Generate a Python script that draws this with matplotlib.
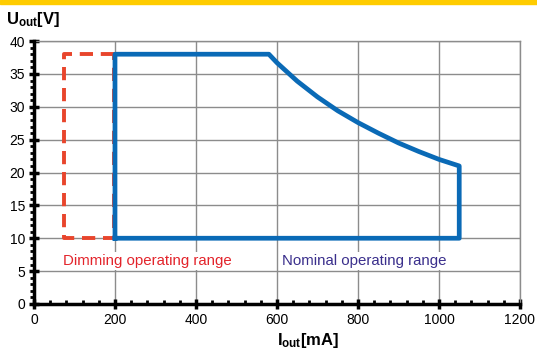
import matplotlib.pyplot as plt
from matplotlib.patches import Rectangle
from matplotlib.ticker import MultipleLocator

plt.rcParams['font.family'] = ['Liberation Sans', 'DejaVu Sans']
plt.rcParams['mathtext.fontset'] = 'custom'
plt.rcParams['mathtext.rm'] = 'Liberation Sans'
plt.rcParams['mathtext.bf'] = 'Liberation Sans:bold'

# nominal operating window (constant power section on the right)
nom_i = [200, 200, 580, 600, 650, 700, 750, 800, 850, 900, 950, 1000, 1050, 1050, 200]
nom_u = [10, 38, 38, 36.7, 33.9, 31.5, 29.4, 27.6, 26.0, 24.5, 23.2, 22.0, 21.0, 10, 10]

# dimming operating window
dim_i = [197, 75, 75, 197, 197]
dim_u = [38, 38, 10, 10, 38]

x_ticks = [0, 200, 400, 600, 800, 1000, 1200]
y_ticks = [0, 5, 10, 15, 20, 25, 30, 35, 40]

blue = '#0a6ab6'
red = '#e8452c'

fig = plt.figure(figsize=(5.37, 3.51), dpi=100)
fig.patches.append(Rectangle((0, 0.988), 1, 0.012, transform=fig.transFigure,
                             color='#ffcc00', zorder=0))

ax = fig.add_axes([0.0633, 0.134, 0.905, 0.749])
ax.set_xlim(0, 1200)
ax.set_ylim(0, 40)
ax.set_xticks(x_ticks)
ax.set_yticks(y_ticks)
ax.xaxis.set_minor_locator(MultipleLocator(40))
ax.yaxis.set_minor_locator(MultipleLocator(1))
ax.grid(True, color='#8c8c8c', linewidth=1.0)
ax.set_axisbelow(True)

for s in ['top', 'right']:
    ax.spines[s].set_color('#8c8c8c')
    ax.spines[s].set_linewidth(1.0)
for s in ['left', 'bottom']:
    ax.spines[s].set_linewidth(2.5)
    ax.spines[s].set_color('black')
    ax.spines[s].set_zorder(5)

ax.tick_params(which='major', direction='inout', length=7, width=2.5,
               labelsize=10, pad=3)
ax.tick_params(axis='x', which='minor', direction='in', length=3, width=2)
ax.tick_params(axis='y', which='minor', direction='out', length=3, width=2)

ax.plot(dim_i, dim_u, color=red, linewidth=2.8, linestyle=(0, (3.4, 2.0)),
        zorder=3)
ax.plot(nom_i, nom_u, color=blue, linewidth=3.4, solid_joinstyle='round',
        zorder=4)

ax.text(72, 6.5, 'Dimming operating range', color='#e3242b', fontsize=10.8,
        va='center', ha='left',
        bbox=dict(facecolor='white', edgecolor='none', pad=1.5))
ax.text(613, 6.5, 'Nominal operating range', color='#3a2f8c', fontsize=10.8,
        va='center', ha='left',
        bbox=dict(facecolor='white', edgecolor='none', pad=1.5))

fig.text(0.011, 0.945, r'$\mathbf{U_{out}}$[V]', fontsize=12,
         fontweight='bold', va='center', ha='left')
fig.text(0.574, 0.03, r'$\mathbf{I_{out}}$[mA]', fontsize=12,
         fontweight='bold', va='center', ha='center')

fig.savefig('out.png', dpi=100)
